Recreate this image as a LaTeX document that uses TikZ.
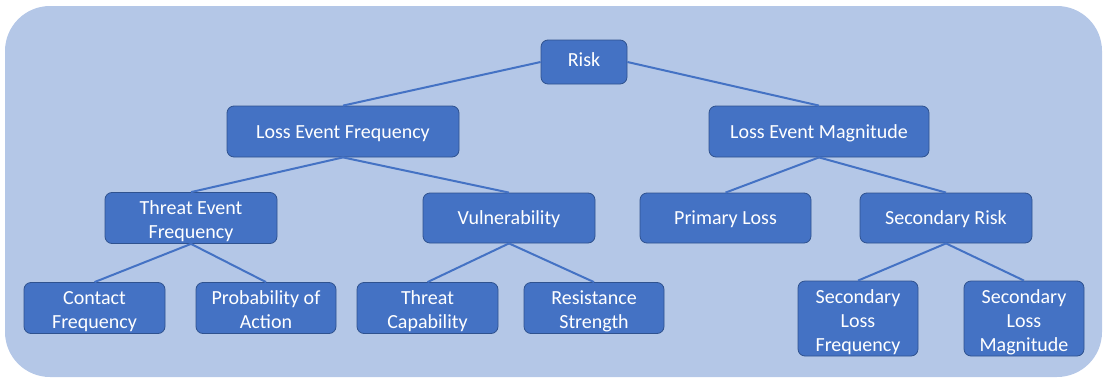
\documentclass[tikz,border=0pt]{standalone}
\usepackage{fontspec}
\setmainfont{Carlito}
\definecolor{bgblue}{HTML}{B4C7E7}
\definecolor{boxblue}{HTML}{4472C4}
\definecolor{boxedge}{HTML}{2F528F}
\begin{document}
\begin{tikzpicture}[x=1pt,y=-1pt,
  box/.style={draw=boxedge, line width=0.8pt, fill=boxblue, rounded corners=7pt,
    text=white, align=center, inner sep=0pt,
    font=\fontsize{20}{24}\selectfont, text depth=5pt},
  oneline/.style={box, text height=18.6pt},
  twoline/.style={box, text height=46pt},
  threeline/.style={box, text height=70pt},
  link/.style={draw=boxblue, line width=2pt}]
\useasboundingbox (0,0) rectangle (1107,380);
\fill[bgblue, rounded corners=45pt] (5,6) rectangle (1102,377);
% nodes
\node[oneline, text height=13pt, minimum width=86pt, minimum height=44pt] (risk) at (584,62) {Risk};
\node[oneline, minimum width=232pt, minimum height=51pt] (lef) at (343,131.5) {Loss Event Frequency};
\node[oneline, minimum width=220pt, minimum height=51pt] (lem) at (819,131.5) {Loss Event Magnitude};
\node[twoline, minimum width=172pt, minimum height=50pt] (tef) at (191,218) {Threat Event\\Frequency};
\node[oneline, minimum width=172pt, minimum height=50pt] (vul) at (509,218) {Vulnerability};
\node[oneline, minimum width=171pt, minimum height=50pt] (pl) at (725.5,218) {Primary Loss};
\node[oneline, minimum width=172pt, minimum height=50pt] (sr) at (946,218) {Secondary Risk};
\node[twoline, minimum width=141pt, minimum height=50pt] (cf) at (94.5,308) {Contact\\Frequency};
\node[twoline, minimum width=140pt, minimum height=50pt] (pa) at (266,308) {Probability of\\Action};
\node[twoline, minimum width=141pt, minimum height=50pt] (tc) at (427.5,308) {Threat\\Capability};
\node[twoline, minimum width=140pt, minimum height=50pt] (rs) at (594,308) {Resistance\\Strength};
\node[threeline, minimum width=120pt, minimum height=71pt] (slf) at (858,318.5) {Secondary\\Loss\\Frequency};
\node[threeline, minimum width=120pt, minimum height=71pt] (slm) at (1024,318.5) {Secondary\\Loss\\Magnitude};
% connectors
\path[link] (risk.west) -- (lef.north);
\path[link] (risk.east) -- (lem.north);
\path[link] (lef.south) -- (tef.north);
\path[link] (lef.south) -- (vul.north);
\path[link] (lem.south) -- (pl.north);
\path[link] (lem.south) -- (sr.north);
\path[link] (tef.south) -- (cf.north);
\path[link] (tef.south) -- (pa.north);
\path[link] (vul.south) -- (tc.north);
\path[link] (vul.south) -- (rs.north);
\path[link] (sr.south) -- (slf.north);
\path[link] (sr.south) -- (slm.north);
\end{tikzpicture}
\end{document}
